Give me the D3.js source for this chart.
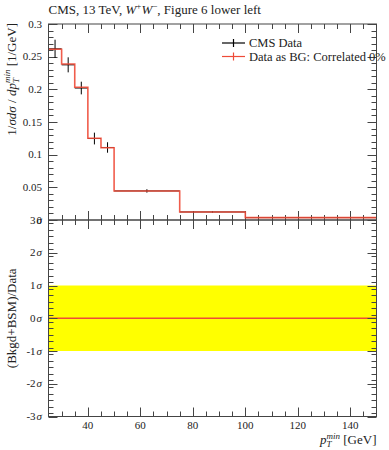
<!DOCTYPE html>
<html>
<head>
<meta charset="utf-8">
<script src="https://cdn.jsdelivr.net/npm/d3@7"></script>
<style>
  body { margin: 0; background: #fff; }
  text { font-family: "Liberation Serif", "DejaVu Serif", serif; fill: #222; }
</style>
</head>
<body>
<div id="plot"></div>
<script>
// bin edges in pT^min (GeV)
var binEdges = [25, 30, 35, 40, 45, 50, 75, 100, 150];
// CMS data points and their errors
var dataValues = [0.262, 0.2375, 0.202, 0.1247, 0.111, 0.0445, 0.0123, 0.0037];
var dataErrors = [0.014, 0.0115, 0.0097, 0.009, 0.008, 0.0026, 0.001, 0.0004];
// "Data as BG" histogram
var bgValues = [0.2613, 0.2388, 0.2031, 0.1252, 0.1107, 0.0444, 0.0122, 0.0036];
// ratio panel
var sigmaTicks = [3, 2, 1, 0, -1, -2, -3];
var xTicks = [40, 60, 80, 100, 120, 140];
var yTicks = [0.05, 0.1, 0.15, 0.2, 0.25, 0.3];

var svgWidth = 389, svgHeight = 450;
var margin = { left: 48.5, right: 12.5, top: 24 };
var mainHeight = 196, ratioHeight = 196.5;
var width = svgWidth - margin.left - margin.right;

var svg = d3.select("#plot").append("svg")
  .attr("width", svgWidth)
  .attr("height", svgHeight);

var x = d3.scaleLinear().domain([25, 150]).range([margin.left, margin.left + width]);
var y = d3.scaleLinear().domain([0, 0.3]).range([margin.top + mainHeight, margin.top]);
var ratioTop = margin.top + mainHeight;
var yr = d3.scaleLinear().domain([-3, 3]).range([ratioTop + ratioHeight, ratioTop]);

var axisColor = "#444";

// ---- ratio panel band and line
svg.append("rect")
  .attr("x", x(25)).attr("width", x(150) - x(25))
  .attr("y", yr(1)).attr("height", yr(-1) - yr(1))
  .attr("fill", "#ffff00");
svg.append("line")
  .attr("x1", x(25)).attr("x2", x(150))
  .attr("y1", yr(0)).attr("y2", yr(0))
  .attr("stroke", "#ee4b38").attr("stroke-width", 1.3);

// ---- tick helper: draws ticks on all frame sides
function ticksX(scale, yPos, dir, values, len) {
  svg.append("g").selectAll("line").data(values).join("line")
    .attr("x1", d => Math.round(scale(d)) + 0.5).attr("x2", d => Math.round(scale(d)) + 0.5)
    .attr("y1", yPos).attr("y2", yPos + dir * len)
    .attr("stroke", axisColor).attr("stroke-width", 1);
}
function ticksY(scale, xPos, dir, values, len) {
  svg.append("g").selectAll("line").data(values).join("line")
    .attr("y1", d => Math.round(scale(d)) + 0.5).attr("y2", d => Math.round(scale(d)) + 0.5)
    .attr("x1", xPos).attr("x2", xPos + dir * len)
    .attr("stroke", axisColor).attr("stroke-width", 1);
}

var xMinor = d3.range(30, 150, 5).filter(d => d % 20 !== 0);
var yMinor = d3.range(1, 30).map(d => d / 100).filter(d => Math.round(d * 100) % 5 !== 0);
var rMinor = d3.range(-29, 30, 2).map(d => d / 10).filter(d => Math.abs(d - Math.round(d)) > 0.01);

var xl = x(25), xr = x(150);
var yTop = margin.top, yMid = ratioTop, yBot = ratioTop + ratioHeight;

// main panel ticks
ticksY(y, xl, 1, yTicks, 9); ticksY(y, xl, 1, yMinor, 5);
ticksY(y, xr, -1, yTicks, 9); ticksY(y, xr, -1, yMinor, 5);
ticksX(x, yTop, 1, xTicks, 9); ticksX(x, yTop, 1, xMinor, 5);
ticksX(x, yMid, -1, xTicks, 9); ticksX(x, yMid, -1, xMinor, 5);
// ratio panel ticks
ticksY(yr, xl, 1, sigmaTicks, 9); ticksY(yr, xl, 1, rMinor, 5);
ticksY(yr, xr, -1, sigmaTicks, 9); ticksY(yr, xr, -1, rMinor, 5);
ticksX(x, yMid, 1, xTicks, 9); ticksX(x, yMid, 1, xMinor, 5);
ticksX(x, yBot, -1, xTicks, 9); ticksX(x, yBot, -1, xMinor, 5);

// ---- data error bars (black)
var bins = dataValues.map((v, i) => ({ lo: binEdges[i], hi: binEdges[i + 1], v: v, e: dataErrors[i] }));
var pts = svg.append("g");
pts.selectAll(".xerr").data(bins).join("line")
  .attr("x1", d => x(d.lo)).attr("x2", d => x(d.hi))
  .attr("y1", d => y(d.v)).attr("y2", d => y(d.v))
  .attr("stroke", "#000").attr("stroke-width", 1);
pts.selectAll(".yerr").data(bins).join("line")
  .attr("x1", d => x((d.lo + d.hi) / 2)).attr("x2", d => x((d.lo + d.hi) / 2))
  .attr("y1", d => y(d.v - d.e)).attr("y2", d => y(d.v + d.e))
  .attr("stroke", "#000").attr("stroke-width", 1);

// ---- BG histogram (red step line)
var stepPts = [];
bgValues.forEach(function(v, i) {
  stepPts.push([binEdges[i], v]);
  stepPts.push([binEdges[i + 1], v]);
});
var line = d3.line().x(d => x(d[0])).y(d => y(d[1]));
svg.append("path")
  .datum(stepPts)
  .attr("d", line)
  .attr("fill", "none")
  .attr("stroke", "#ee4b38")
  .attr("stroke-opacity", 0.9)
  .attr("stroke-width", 1.6);

// ---- frames
svg.append("rect").attr("x", xl).attr("y", yTop).attr("width", xr - xl).attr("height", yMid - yTop)
  .attr("fill", "none").attr("stroke", axisColor);
svg.append("rect").attr("x", xl).attr("y", yMid).attr("width", xr - xl).attr("height", yBot - yMid)
  .attr("fill", "none").attr("stroke", axisColor);

// ---- tick labels
svg.append("g").selectAll("text").data(yTicks.concat([0])).join("text")
  .attr("x", 42).attr("y", d => y(d) + 3.5)
  .attr("text-anchor", "end").attr("font-size", "11px")
  .text(d => d === 0 ? "0" : d3.format("")(d));

var sig = svg.append("g").selectAll("text").data(sigmaTicks).join("text")
  .attr("x", 42).attr("y", d => yr(d) + 3.5)
  .attr("text-anchor", "end").attr("font-size", "11px");
sig.append("tspan").text(d => d < 0 ? "-" + Math.abs(d) : d);
sig.append("tspan").attr("font-style", "italic").attr("dx", 1).text("σ");

svg.append("g").selectAll("text").data(xTicks).join("text")
  .attr("x", d => x(d)).attr("y", yBot + 12.5)
  .attr("text-anchor", "middle").attr("font-size", "11px")
  .text(d => d);

// ---- title
var title = svg.append("text").attr("x", xl).attr("y", 13.5).attr("font-size", "13px");
title.append("tspan").text("CMS, 13 TeV, ");
title.append("tspan").attr("font-style", "italic").text("W");
title.append("tspan").attr("font-size", "9px").attr("dy", -5).text("+");
title.append("tspan").attr("font-style", "italic").attr("dy", 5).text("W");
title.append("tspan").attr("font-size", "9px").attr("dy", -5).text("−");
title.append("tspan").attr("dy", 5).text(", Figure 6 lower left");

// ---- axis labels
var ylab = svg.append("text")
  .attr("transform", `translate(16, ${yTop - 1}) rotate(-90)`)
  .attr("text-anchor", "end").attr("font-size", "13px");
ylab.append("tspan").text("1/");
ylab.append("tspan").attr("font-style", "italic").text("σdσ");
ylab.append("tspan").text(" / ");
ylab.append("tspan").attr("font-style", "italic").text("dp");
ylab.append("tspan").attr("font-style", "italic").attr("font-size", "9px").attr("dy", 3).text("T");
ylab.append("tspan").attr("font-style", "italic").attr("font-size", "9px").attr("dx", -5).attr("dy", -9).text("min");
ylab.append("tspan").attr("dy", 6).text(" [1/GeV]");

svg.append("text")
  .attr("transform", `translate(16, ${yr(0)}) rotate(-90)`)
  .attr("text-anchor", "middle").attr("font-size", "13px")
  .text("(Bkgd+BSM)/Data");

var xlab = svg.append("text").attr("x", xr).attr("y", yBot + 27).attr("text-anchor", "end").attr("font-size", "13px");
xlab.append("tspan").attr("font-style", "italic").text("p");
xlab.append("tspan").attr("font-style", "italic").attr("font-size", "9px").attr("dy", 3).text("T");
xlab.append("tspan").attr("font-style", "italic").attr("font-size", "9px").attr("dx", -5).attr("dy", -8).text("min");
xlab.append("tspan").attr("dy", 5).text(" [GeV]");

// ---- legend
var legendItems = [
  { label: "CMS Data", color: "#000" },
  { label: "Data as BG: Correlated 0%", color: "#ee4b38" }
];
var leg = svg.append("g").selectAll("g").data(legendItems).join("g")
  .attr("transform", (d, i) => `translate(222, ${43 + i * 13.5})`);
leg.append("line").attr("x1", 0).attr("x2", 23).attr("y1", 0).attr("y2", 0)
  .attr("stroke", d => d.color).attr("stroke-width", 1.2);
leg.append("line").attr("x1", 11.5).attr("x2", 11.5).attr("y1", -4).attr("y2", 4)
  .attr("stroke", d => d.color).attr("stroke-width", 1.2);
leg.append("text").attr("x", 27).attr("y", 4).attr("font-size", "12.5px").text(d => d.label);
// frame edge drawn over the overflowing legend text
svg.append("line").attr("x1", xr).attr("x2", xr).attr("y1", yTop).attr("y2", yMid).attr("stroke", axisColor);
</script>
</body>
</html>
